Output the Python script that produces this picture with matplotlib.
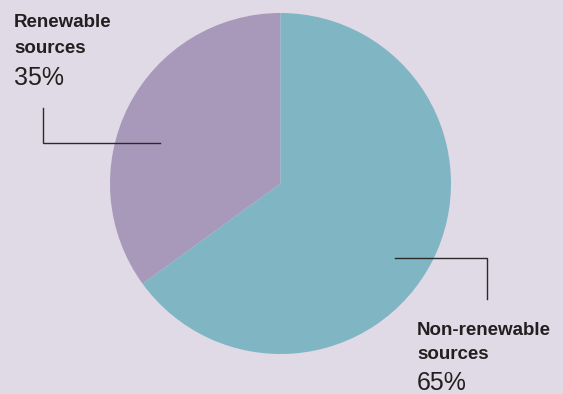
import matplotlib
matplotlib.use("Agg")
import matplotlib.pyplot as plt

labels = ["Renewable\nsources", "Non-renewable\nsources"]
shares = [35, 65]
colors = ["#a899bb", "#80b6c3"]
bg = "#e0dae6"

W, H = 563, 394
fig = plt.figure(figsize=(W / 100, H / 100), dpi=100, facecolor=bg)
ax = fig.add_axes([0, 0, 1, 1])

# y axis is inverted (pixel-like coords), so angles run mirrored
ax.pie(shares, colors=colors, startangle=-90, counterclock=False,
       center=(280.5, 183.5), radius=170.5, frame=True,
       wedgeprops=dict(linewidth=0))
ax.set_xlim(0, W)
ax.set_ylim(H, 0)
ax.set_aspect("equal")
ax.axis("off")

lc = "#2a2a2a"
ax.plot([43, 43, 160], [108, 143, 143], color=lc, lw=1.0, solid_joinstyle="miter")
ax.plot([395, 487, 487], [258, 258, 299], color=lc, lw=1.0, solid_joinstyle="miter")

fam = ["Liberation Sans", "DejaVu Sans"]
tc = "#231f20"
fs = 13.5
ax.text(14, 27, "Renewable", fontsize=fs, fontweight="bold", family=fam, color=tc, va="baseline")
ax.text(14, 53, "sources", fontsize=fs, fontweight="bold", family=fam, color=tc, va="baseline")
ax.text(14, 85, f"{shares[0]}%", fontsize=18, family=fam, color=tc, va="baseline")

ax.text(417, 335, "Non-renewable", fontsize=fs, fontweight="bold", family=fam, color=tc, va="baseline")
ax.text(417, 359, "sources", fontsize=fs, fontweight="bold", family=fam, color=tc, va="baseline")
ax.text(417, 390, f"{shares[1]}%", fontsize=18, family=fam, color=tc, va="baseline")

fig.savefig("out.png", dpi=100, facecolor=bg)
